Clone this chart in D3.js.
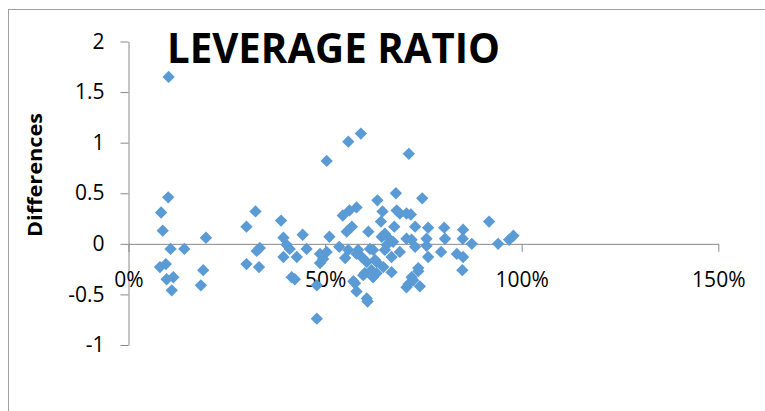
<!DOCTYPE html>
<html>
<head>
<meta charset="utf-8">
<script src="https://cdn.jsdelivr.net/npm/d3@7"></script>
<style>
  body { margin: 0; background: #fff; }
  svg { display: block; font-family: "Open Sans", sans-serif; }
</style>
</head>
<body>
<div id="chart"></div>
<script>
// leverage ratio (fraction) and the difference for each firm
var ratio = [
  0.102, 0.101, 0.083, 0.087, 0.107, 0.142, 0.197, 0.080, 0.095, 0.097,
  0.114, 0.110, 0.190, 0.184, 0.300, 0.323, 0.334, 0.326, 0.300, 0.332,
  0.388, 0.394, 0.402, 0.410, 0.394, 0.428, 0.443, 0.453, 0.415, 0.423,
  0.479, 0.479, 0.511, 0.487, 0.495, 0.487, 0.504, 0.504, 0.536, 0.545,
  0.555, 0.559, 0.591, 0.562, 0.580, 0.568, 0.559, 0.551, 0.580, 0.593,
  0.572, 0.580, 0.608, 0.597, 0.610, 0.633, 0.614, 0.606, 0.622, 0.627,
  0.601, 0.618, 0.631, 0.648, 0.622, 0.646, 0.642, 0.652, 0.644, 0.657,
  0.665, 0.673, 0.676, 0.680, 0.682, 0.690, 0.707, 0.718, 0.713, 0.729,
  0.707, 0.720, 0.729, 0.669, 0.631, 0.669, 0.737, 0.712, 0.741, 0.724,
  0.707, 0.720, 0.747, 0.762, 0.758, 0.758, 0.762, 0.803, 0.805, 0.795,
  0.851, 0.850, 0.873, 0.835, 0.851, 0.849, 0.917, 0.940, 0.968, 0.979,
  0.584, 0.690, 0.576, 0.606, 0.737, 0.652
];
var diffs = [
  1.65, 0.46, 0.31, 0.13, -0.05, -0.05, 0.06, -0.23, -0.20, -0.35,
  -0.33, -0.46, -0.26, -0.41, 0.17, 0.32, -0.04, -0.07, -0.20, -0.23,
  0.23, 0.06, -0.01, -0.05, -0.13, -0.13, 0.09, -0.05, -0.33, -0.35,
  -0.41, -0.74, 0.07, -0.10, -0.15, -0.19, -0.08, 0.82, -0.03, 0.28,
  0.12, 1.01, 1.09, 0.33, 0.36, 0.17, -0.06, -0.14, -0.10, -0.13,
  -0.37, -0.47, -0.57, -0.31, 0.12, 0.43, -0.05, -0.18, -0.06, -0.16,
  -0.29, -0.26, -0.29, -0.23, -0.33, 0.32, 0.22, 0.10, 0.07, -0.01,
  0.04, 0.02, 0.17, 0.50, 0.33, 0.30, 0.30, 0.29, 0.89, 0.17,
  0.05, 0.04, -0.03, -0.13, -0.18, -0.28, -0.27, -0.40, -0.42, -0.36,
  -0.43, -0.33, 0.45, 0.16, 0.05, -0.02, -0.13, 0.16, 0.05, -0.08,
  0.14, 0.05, 0.00, -0.10, -0.13, -0.26, 0.22, 0.00, 0.04, 0.08,
  -0.06, -0.08, -0.39, -0.54, -0.24, -0.06
];
var xTicks = [0, 0.5, 1, 1.5];
var yTicks = [-1, -0.5, 0, 0.5, 1, 1.5, 2];
var title = "LEVERAGE RATIO";
var yTitle = "Differences";

var width = 765, height = 411;
var axisColor = "#898989";

var svg = d3.select("#chart").append("svg")
  .attr("width", width)
  .attr("height", height);

// chart area border (cropped on right and bottom)
svg.append("rect")
  .attr("x", 8.5).attr("y", 9.5)
  .attr("width", 800).attr("height", 450)
  .attr("fill", "#fff")
  .attr("stroke", "#a0a0a0");

var x = d3.scaleLinear().domain([0, 1.5]).range([128.5, 718.3]);
var y = d3.scaleLinear().domain([-1, 2]).range([345, 41.5]);

var yAxis = svg.append("g")
  .attr("transform", "translate(" + x(0) + ",0)")
  .call(d3.axisLeft(y).tickValues(yTicks).tickSizeOuter(0).tickSizeInner(8).tickPadding(16)
    .tickFormat(function(d){ return String(d); }));

var xAxis = svg.append("g")
  .attr("transform", "translate(0," + y(0) + ")")
  .call(d3.axisBottom(x).tickValues(xTicks).tickSizeOuter(0).tickSizeInner(8).tickPadding(20)
    .tickFormat(function(d){ return Math.round(d * 100) + "%"; }));

[xAxis, yAxis].forEach(function(a){
  a.select(".domain").attr("stroke", axisColor);
  a.selectAll(".tick line").attr("stroke", axisColor);
  a.selectAll(".tick text")
    .attr("fill", "#000")
    .style("font-family", "'Open Sans', sans-serif")
    .style("font-size", "21px");
});

// points
var diamond = d3.symbol().type(d3.symbolSquare).size(76);
svg.append("g").selectAll("path")
  .data(d3.range(ratio.length))
  .join("path")
  .attr("d", diamond)
  .attr("transform", function(i){
    return "translate(" + x(ratio[i]) + "," + y(diffs[i]) + ") rotate(45)";
  })
  .attr("fill", "#5b9bd5");

svg.append("text")
  .attr("x", 167).attr("y", 63)
  .attr("textLength", 333)
  .attr("lengthAdjust", "spacingAndGlyphs")
  .style("font-size", "42px")
  .style("font-weight", "bold")
  .text(title);

svg.append("text")
  .attr("transform", "translate(42,175) rotate(-90)")
  .attr("text-anchor", "middle")
  .attr("textLength", 124)
  .attr("lengthAdjust", "spacingAndGlyphs")
  .style("font-size", "20px")
  .style("font-weight", "bold")
  .text(yTitle);
</script>
</body>
</html>
